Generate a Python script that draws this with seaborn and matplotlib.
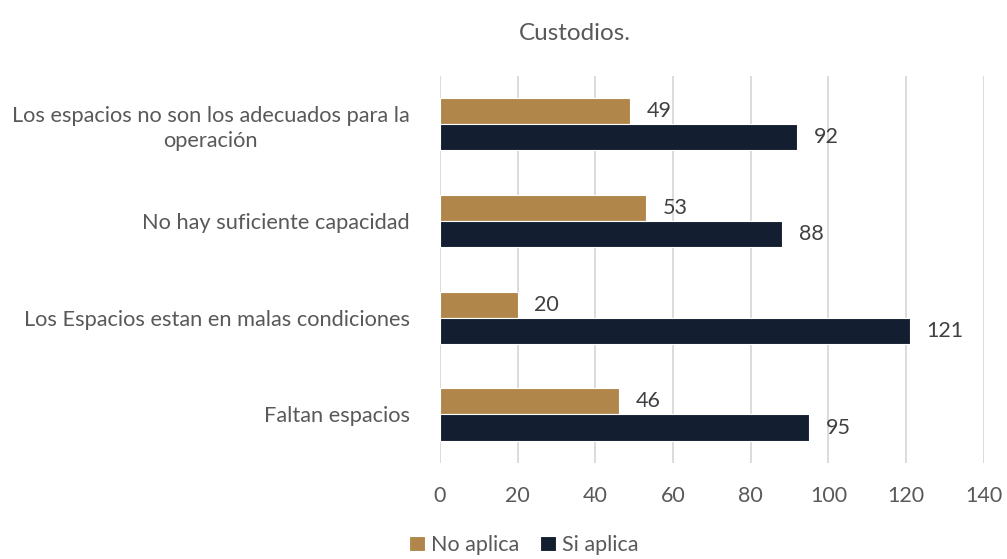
import matplotlib
matplotlib.use("Agg")
import matplotlib.pyplot as plt
import seaborn as sns
import pandas as pd

categories = [
    "Los espacios no son los adecuados para la\noperación",
    "No hay suficiente capacidad",
    "Los Espacios estan en malas condiciones",
    "Faltan espacios",
]
series_names = ["No aplica", "Si aplica"]
no_aplica = [49, 53, 20, 46]
si_aplica = [92, 88, 121, 95]
x_ticks = [0, 20, 40, 60, 80, 100, 120, 140]
title = "Custodios."

colors = ["#B1864B", "#131F30"]

df = pd.DataFrame({
    "cat": categories * 2,
    "serie": [series_names[0]] * 4 + [series_names[1]] * 4,
    "val": no_aplica + si_aplica,
})

sns.set_theme(style="white")
plt.rcParams["font.family"] = ["Lato", "DejaVu Sans"]
text_color = "#595959"
fs = 15.5

fig = plt.figure(figsize=(10.07, 5.59), dpi=100)
ax = fig.add_axes([0.437, 0.172, 0.540, 0.692])

sns.barplot(data=df, y="cat", x="val", hue="serie", order=categories,
            hue_order=series_names, palette=colors, orient="h",
            width=0.54, ax=ax, edgecolor="white", linewidth=0.8,
            saturation=1, legend=True)

for cont in ax.containers:
    ax.bar_label(cont, padding=12, fontsize=fs, color="#404040")

ax.set_xlim(0, 140)
ax.set_xticks(x_ticks)
ax.set_xticklabels([str(t) for t in x_ticks], fontsize=fs, color=text_color)
ax.tick_params(axis="x", length=0, pad=17)
ax.tick_params(axis="y", length=0, pad=22, labelsize=15.7, labelcolor=text_color)
for lbl in ax.get_yticklabels():
    lbl.set_horizontalalignment("right")
    lbl.set_multialignment("center")
    lbl.set_linespacing(1.3)
ax.xaxis.grid(True, color="#D9D9D9", linewidth=1.3)
ax.set_axisbelow(True)
for s in ax.spines.values():
    s.set_visible(False)
ax.set_xlabel("")
ax.set_ylabel("")

leg = ax.get_legend()
handles, labels = ax.get_legend_handles_labels()
leg.remove()
fig.legend(handles, labels, loc="center", bbox_to_anchor=(0.52, 0.025), ncol=2,
           frameon=False, fontsize=fs, handlelength=0.75, handleheight=0.75,
           handletextpad=0.25, columnspacing=1.0, labelcolor=text_color)

fig.text(0.571, 0.94, title, ha="center", va="center", fontsize=17.5, color=text_color)

fig.savefig("out.png", dpi=100)
